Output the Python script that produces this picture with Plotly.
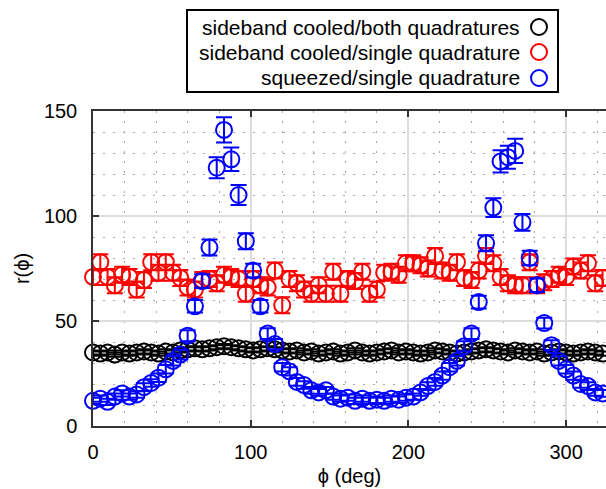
import plotly.graph_objects as go

# Phase settings (deg): 78 steps per full turn, shown up to ~323 deg
STEP = 360 / 78
phase = [round(i * STEP, 2) for i in range(71)]

# Sideband cooled, both quadratures
r_both = [35, 34.5, 35, 34, 35, 34.5, 35, 35.5, 35, 34.5,
          35.5, 35, 36, 36.5, 37, 36.5, 37, 37.5, 38, 37.5,
          37, 36.5, 36, 36.5, 37, 36.5, 36, 35.5, 36, 35,
          35.5, 34.5, 35, 35.5, 34.5, 35, 36, 35, 34.5, 35,
          35.5, 36, 35, 35.5, 35, 34.5, 35, 36, 35.5, 35,
          34.5, 35, 35.5, 36, 36.5, 36, 35.5, 35, 36, 35.5,
          35, 35.5, 34.5, 35, 35.5, 35, 34.5, 35, 35.5, 35, 34.5]
err_both = [1.0] * len(r_both)

# Sideband cooled, single quadrature
r_single = [71, 78, 71, 67, 72, 71, 65, 69.5, 78, 73,
            78, 73, 70.5, 66, 65, 69.5, 70, 68, 72, 71,
            70, 63, 70, 67, 66, 74, 57.5, 70, 68, 65,
            63, 67, 63, 73.5, 63, 70, 69, 73.5, 63, 65,
            73, 73.5, 72, 77.5, 77.5, 76.5, 75, 81, 74, 73,
            78, 70.5, 69.5, 74, 81, 77.5, 71, 68, 67, 67,
            78, 67, 68.5, 70, 72, 71, 76, 74, 77.5, 68, 70.5]
err_single = [3.8] * len(r_single)

# Squeezed, single quadrature
r_squeezed = [12, 13, 11.5, 14, 15.5, 14, 15, 18.5, 20.5, 23,
              27, 31, 34, 43, 57, 69, 85, 123, 141, 127,
              110, 88, 74, 57, 44, 39, 28, 26, 21, 19.5,
              17, 16, 17, 14, 13, 13.5, 12, 13, 12, 12.5,
              12, 13, 12.5, 13.5, 14, 16, 19, 21, 24, 28,
              31, 38, 44, 59, 87, 104, 126, 128, 131, 97,
              80, 67, 49, 38.5, 31, 27, 24, 20, 19, 16, 15.5]
err_squeezed = [1.5, 1.5, 1.5, 1.5, 1.5, 1.5, 1.5, 1.8, 1.8, 2.0,
                2.0, 2.2, 2.3, 2.6, 3.0, 3.3, 3.8, 5.0, 6.0, 5.6,
                4.8, 3.8, 3.3, 3.0, 2.6, 2.4, 2.0, 2.0, 1.8, 1.8,
                1.6, 1.6, 1.6, 1.5, 1.5, 1.5, 1.5, 1.5, 1.5, 1.5,
                1.5, 1.5, 1.5, 1.5, 1.5, 1.6, 1.8, 1.8, 2.0, 2.0,
                2.2, 2.4, 2.6, 3.0, 3.8, 4.5, 5.3, 5.5, 5.8, 4.0,
                3.5, 3.2, 2.6, 2.3, 2.2, 2.0, 2.0, 1.8, 1.8, 1.6, 1.6]

series = [
    ("sideband cooled/both quadratures", r_both, err_both, "#000000"),
    ("sideband cooled/single quadrature", r_single, err_single, "#ff0000"),
    ("squeezed/single quadrature", r_squeezed, err_squeezed, "#0000ff"),
]

FONT = "Liberation Sans, Arial, sans-serif"
W, H = 606, 489
ML, MR, MT, MB = 93, 0, 111, 63
PW, PH = W - ML - MR, H - MT - MB


def px_x(px):
    return (px - ML) / PW


def px_y(py):
    return (H - MB - py) / PH


fig = go.Figure()
for name, vals, errs, col in series:
    fig.add_trace(go.Scatter(
        x=phase, y=vals, name=name, mode="markers",
        marker=dict(symbol="circle-open", size=16, color=col,
                    line=dict(width=2, color=col)),
        error_y=dict(type="data", array=errs, visible=True,
                     color=col, thickness=2, width=8),
        cliponaxis=False, showlegend=False,
    ))

# Legend box drawn in paper space: right-aligned labels, symbols on the right
shapes = [dict(type="rect", xref="paper", yref="paper",
               x0=px_x(187), x1=px_x(558), y0=px_y(92), y1=px_y(10),
               line=dict(color="#000000", width=2), fillcolor="white",
               layer="above")]
annotations = []
row_y = [27, 52, 78]
for (name, _, _, col), ry in zip(series, row_y):
    annotations.append(dict(
        xref="paper", yref="paper", x=px_x(522), y=px_y(ry),
        xanchor="right", yanchor="middle", text=name, showarrow=False,
        font=dict(family=FONT, size=21, color="#000000")))
    shapes.append(dict(
        type="circle", xref="paper", yref="paper",
        xsizemode="pixel", ysizemode="pixel",
        xanchor=px_x(539), yanchor=px_y(ry),
        x0=-8, x1=8, y0=-8, y1=8,
        line=dict(color=col, width=2), layer="above"))

fig.update_layout(
    width=W, height=H,
    margin=dict(l=ML, r=MR, t=MT, b=MB, autoexpand=False),
    paper_bgcolor="white", plot_bgcolor="white",
    font=dict(family=FONT, size=20, color="#000000"),
    shapes=shapes, annotations=annotations,
)
fig.update_xaxes(
    range=[0, PW / 1.577], tickvals=[0, 100, 200, 300],
    ticks="inside", ticklen=6, tickwidth=1.5, tickcolor="#333333",
    showline=True, linecolor="#333333", linewidth=1.5, mirror="ticks",
    showgrid=True, gridcolor="#dddddd", gridwidth=1.5, zeroline=False,
    minor=dict(dtick=20, showgrid=True, gridcolor="#a8a8a8",
               griddash="2px,8px", gridwidth=1.2),
    ticklabelstandoff=7,
    title=dict(text="ϕ (deg)", font=dict(size=20), standoff=7),
)
fig.update_yaxes(
    range=[0, 150], tickvals=[0, 50, 100, 150],
    ticks="inside", ticklen=6, tickwidth=1.5, tickcolor="#333333",
    showline=True, linecolor="#333333", linewidth=1.5, mirror=False,
    showgrid=True, gridcolor="#dddddd", gridwidth=1.5, zeroline=False,
    minor=dict(dtick=10, showgrid=True, gridcolor="#a8a8a8",
               griddash="2px,8px", gridwidth=1.2),
    ticklabelstandoff=10,
    title=dict(text="r(ϕ)", font=dict(size=20), standoff=9),
)

fig.write_html("out.html")
